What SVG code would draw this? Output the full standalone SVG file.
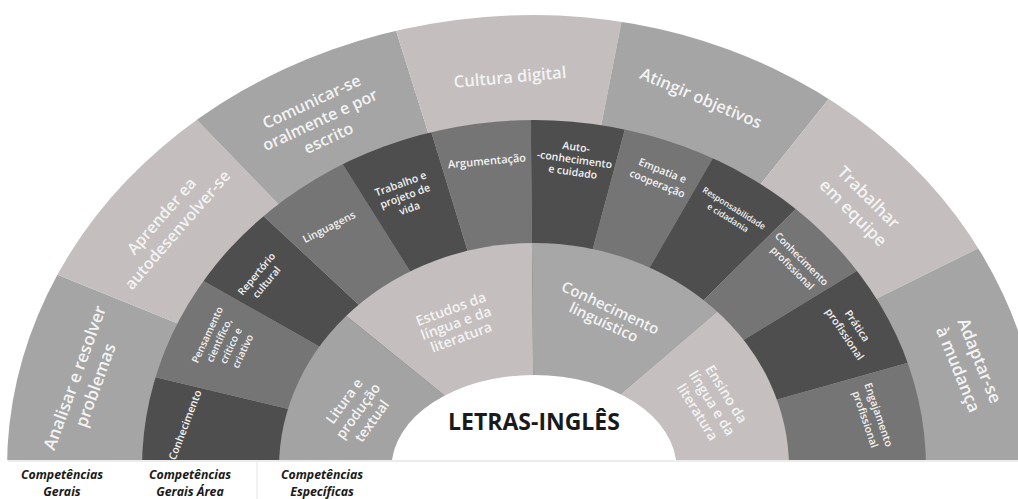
<svg xmlns="http://www.w3.org/2000/svg" width="1018" height="499" viewBox="0 0 1018 499">
<defs>
<style>
.w{font-family:"Open Sans","Noto Sans","DejaVu Sans",sans-serif;font-weight:600;fill:#f3f3f3;text-anchor:middle}
.lt{fill:#c4bebe}
.md{fill:#a5a5a5}
.mg{fill:#757575}
.dk{fill:#4e4e4e}
.lab{font-family:"Open Sans","Noto Sans","DejaVu Sans",sans-serif;font-weight:700;font-style:italic;font-size:12.3px;fill:#1a1a1a;text-anchor:middle}
</style>
<clipPath id="cOuter"><path d="M7,468 A527,453 0 0 1 534,15 A508,453 0 0 1 1042,468 Z"/></clipPath>
<clipPath id="cMid"><ellipse cx="534" cy="468" rx="392" ry="348"/></clipPath>
<clipPath id="cIn"><ellipse cx="534" cy="468" rx="255" ry="225"/></clipPath>
</defs>
<rect width="1018" height="499" fill="#ffffff"/>
<g id="outer-ring" clip-path="url(#cOuter)">
<polygon id="w-analisar" class="md" points="534,468 -661,573 -578,17"/>
<polygon id="w-aprender" class="lt" points="534,468 -578,17 -301,-394"/>
<polygon id="w-comunicar" class="md" points="534,468 -301,-394 173,-676"/>
<polygon id="w-cultura" class="lt" points="534,468 173,-676 765,-710"/>
<polygon id="w-atingir" class="md" points="534,468 765,-710 1283,-470"/>
<polygon id="w-trabalhar" class="lt" points="534,468 1283,-470 1610,-64"/>
<polygon id="w-adaptar" class="md" points="534,468 1610,-64 1729,573"/>
</g>
<g id="middle-ring" clip-path="url(#cMid)">
<polygon id="m-conhecimento" class="dk" points="534,468 -661,573 -633,188"/>
<polygon id="m-pensamento" class="mg" points="534,468 -633,188 -510,-123"/>
<polygon id="m-repertorio" class="dk" points="534,468 -510,-123 -344,-350"/>
<polygon id="m-linguagens" class="mg" points="534,468 -344,-350 -105,-547"/>
<polygon id="m-trabalho" class="dk" points="534,468 -105,-547 183,-680"/>
<polygon id="m-argumentacao" class="mg" points="534,468 183,-680 523,-732"/>
<polygon id="m-auto" class="dk" points="534,468 523,-732 845,-691"/>
<polygon id="m-empatia" class="mg" points="534,468 845,-691 1134,-571"/>
<polygon id="m-responsabilidade" class="dk" points="534,468 1134,-571 1387,-376"/>
<polygon id="m-conhprof" class="mg" points="534,468 1387,-376 1558,-157"/>
<polygon id="m-pratica" class="dk" points="534,468 1558,-157 1689,143"/>
<polygon id="m-engajamento" class="mg" points="534,468 1689,143 1729,573"/>
</g>
<g id="inner-ring" clip-path="url(#cIn)">
<polygon id="i-litura" fill="#a3a3a3" points="534,468 -661,573 -398,-287"/>
<polygon id="i-estudos" class="lt" points="534,468 -398,-287 523,-732"/>
<polygon id="i-conhling" fill="#a7a7a7" points="534,468 523,-732 1446,-311"/>
<polygon id="i-ensino" fill="#c5bfbf" points="534,468 1446,-311 1729,573"/>
</g>
<ellipse id="center-hole" cx="534" cy="468" rx="142.5" ry="93" fill="#ffffff"/>
<rect x="0" y="460" width="1018" height="39" fill="#ffffff"/>
<line x1="8" y1="461" x2="1018" y2="461" stroke="#ececec" stroke-width="2"/>
<line x1="257" y1="462" x2="257" y2="499" stroke="#e4e4e4" stroke-width="1"/>

<g id="outer-labels">
<text class="w" font-size="17" transform="translate(85,381.5) rotate(-70)"><tspan x="0" y="-5">Analisar e resolver</tspan><tspan x="0" y="17">problemas</tspan></text>
<text class="w" font-size="16" transform="translate(169.5,223) rotate(-49)"><tspan x="0" y="-5">Aprender ea</tspan><tspan x="0" y="16">autodesenvolver-se</tspan></text>
<text class="w" font-size="16" transform="translate(320,120) rotate(-25)"><tspan x="0" y="-14.5">Comunicar-se</tspan><tspan x="0" y="5.5">oralmente e por</tspan><tspan x="0" y="25.5">escrito</tspan></text>
<text class="w" font-size="16.5" transform="translate(510,77) rotate(-5)"><tspan x="0" y="5.8">Cultura digital</tspan></text>
<text class="w" font-size="16.5" transform="translate(701,98) rotate(23)"><tspan x="0" y="5.8">Atingir objetivos</tspan></text>
<text class="w" font-size="17" transform="translate(861,205) rotate(45)"><tspan x="0" y="-5">Trabalhar</tspan><tspan x="0" y="17">em equipe</tspan></text>
<text class="w" font-size="17" transform="translate(969,365) rotate(68)"><tspan x="0" y="-5.5">Adaptar-se</tspan><tspan x="0" y="17.5">à mudança</tspan></text>
</g>
<g id="middle-labels">
<text class="w" font-size="10.5" transform="translate(185,425) rotate(-69)"><tspan x="0" y="3.7">Conhecimento</tspan></text>
<text class="w" font-size="10" transform="translate(225,343) rotate(-65)"><tspan x="0" y="-16">Pensamento</tspan><tspan x="0" y="-3">científico,</tspan><tspan x="0" y="10">crítico e</tspan><tspan x="0" y="23">criativo</tspan></text>
<text class="w" font-size="10" transform="translate(261.5,278) rotate(-50)"><tspan x="0" y="-3">Repertório</tspan><tspan x="0" y="10">cultural</tspan></text>
<text class="w" font-size="10.5" transform="translate(329,227) rotate(-27)"><tspan x="0" y="3.7">Linguagens</tspan></text>
<text class="w" font-size="10.5" transform="translate(405,196) rotate(-20)"><tspan x="0" y="-9.3">Trabalho e</tspan><tspan x="0" y="3.7">projeto de</tspan><tspan x="0" y="16.7">vida</tspan></text>
<text class="w" font-size="11" transform="translate(487,161) rotate(-5)"><tspan x="0" y="3.8">Argumentação</tspan></text>
<text class="w" font-size="10.5" transform="translate(574.5,159.5) rotate(8)"><tspan x="0" y="-8.8">Auto-</tspan><tspan x="0" y="3.7">-conhecimento</tspan><tspan x="0" y="16.2">e cuidado</tspan></text>
<text class="w" font-size="10.5" transform="translate(660,177) rotate(22)"><tspan x="0" y="-3.3">Empatia e</tspan><tspan x="0" y="10.7">cooperação</tspan></text>
<text class="w" font-size="8.5" transform="translate(731,213) rotate(32)"><tspan x="0" y="-2.7">Responsabilidade</tspan><tspan x="0" y="8.6">e cidadania</tspan></text>
<text class="w" font-size="10" transform="translate(797,263.5) rotate(45)"><tspan x="0" y="-3">Conhecimento</tspan><tspan x="0" y="10">profissional</tspan></text>
<text class="w" font-size="10.5" transform="translate(851,330) rotate(56)"><tspan x="0" y="-3.8">Prática</tspan><tspan x="0" y="11.2">profissional</tspan></text>
<text class="w" font-size="10.5" transform="translate(872,417) rotate(71)"><tspan x="0" y="-3.3">Engajamento</tspan><tspan x="0" y="10.7">profissional</tspan></text>
</g>
<g id="inner-labels">
<text class="w" font-size="14" transform="translate(358,411) rotate(-54)"><tspan x="0" y="-12">Litura e</tspan><tspan x="0" y="5">produção</tspan><tspan x="0" y="22">textual</tspan></text>
<text class="w" font-size="14" transform="translate(456,323) rotate(-20)"><tspan x="0" y="-10">Estudos da</tspan><tspan x="0" y="5">língua e da</tspan><tspan x="0" y="20">literatura</tspan></text>
<text class="w" font-size="15" transform="translate(607,315) rotate(25)"><tspan x="0" y="-2.8">Conhecimento</tspan><tspan x="0" y="13.2">linguístico</tspan></text>
<text class="w" font-size="14" transform="translate(712,403) rotate(58)"><tspan x="0" y="-12">Ensino da</tspan><tspan x="0" y="5">língua e da</tspan><tspan x="0" y="22">literatura</tspan></text>
</g>
<g id="center">
<text x="534" y="430" font-family="'Open Sans','Noto Sans','DejaVu Sans',sans-serif" font-weight="700" font-size="23" fill="#1a1a1a" text-anchor="middle">LETRAS-INGLÊS</text>
</g>
<g id="legend">
<text class="lab"><tspan x="62" y="479">Competências</tspan><tspan x="62" y="496">Gerais</tspan></text>
<text class="lab"><tspan x="190" y="479">Competências</tspan><tspan x="190" y="496">Gerais Área</tspan></text>
<text class="lab"><tspan x="322" y="479">Competências</tspan><tspan x="322" y="496">Específicas</tspan></text>
</g>
</svg>
